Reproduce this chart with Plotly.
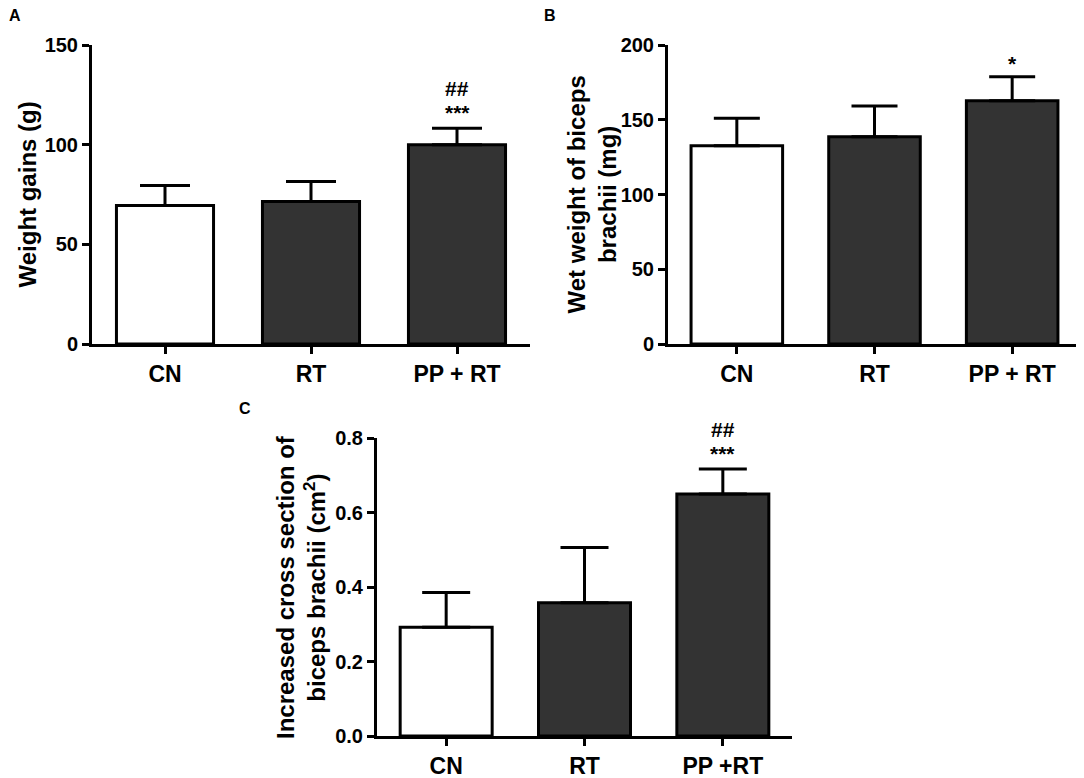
import plotly.graph_objects as go

# ---- data ----
cats_ab = ["CN", "RT", "PP + RT"]
cats_c = ["CN", "RT", "PP +RT"]

weight_gain_mean = [69.5, 71.5, 100.0]
weight_gain_sem = [10.0, 10.0, 8.2]

wet_weight_mean = [132.6, 138.7, 162.7]
wet_weight_sem = [18.4, 20.5, 16.1]

cross_section_mean = [0.292, 0.358, 0.650]
cross_section_sem = [0.093, 0.148, 0.067]

bar_colors = ["#ffffff", "#333333", "#333333"]

# significance marks: (category index, text, pixel offset above error cap)
sig_a = [(2, "***", 2), (2, "##", 26)]
sig_b = [(2, "*", 0)]
sig_c = [(2, "***", 2), (2, "##", 26)]

# page body has an 8px margin: shift everything by 8px, keep a full-size canvas
OFF = 8
W, H = 1084, 778
FONT = "Arial, Liberation Sans, sans-serif"

def fx(a):
    return (a - OFF) / W

def fy(a):
    return 1 - (a - OFF) / H

def px_x(a, b):
    return [fx(a), fx(b)]

def px_y(top, bottom):
    return [fy(bottom), fy(top)]

fig = go.Figure()

panels = [
    ("x", "y", cats_ab, weight_gain_mean, weight_gain_sem, 25),
    ("x2", "y2", cats_ab, wet_weight_mean, wet_weight_sem, 23),
    ("x3", "y3", cats_c, cross_section_mean, cross_section_sem, 24),
]
for xa, ya, cats, mean, sem, capw in panels:
    fig.add_trace(go.Bar(
        x=cats, y=mean, xaxis=xa, yaxis=ya, width=0.665,
        marker=dict(color=bar_colors, line=dict(color="black", width=3)),
        error_y=dict(type="data", symmetric=False, array=sem,
                     arrayminus=[0] * len(sem), color="black",
                     thickness=3, width=capw),
        showlegend=False, hoverinfo="skip",
    ))

axis_common = dict(showline=True, linewidth=3, linecolor="black",
                   ticks="outside", tickwidth=2.5, ticklen=7, tickcolor="black",
                   showgrid=False, zeroline=False, fixedrange=True, automargin=False)

xtick_font = dict(family=FONT, size=23, color="black", weight="bold")
ytick_font = dict(family=FONT, size=20, color="black", weight="bold")

fig.update_layout(
    width=W, height=H, margin=dict(l=0, r=0, t=0, b=0, pad=0, autoexpand=False),
    paper_bgcolor="white", plot_bgcolor="white",
    xaxis=dict(domain=px_x(92, 530), anchor="y", range=[-0.5, 2.5],
               tickfont=xtick_font, **axis_common),
    yaxis=dict(domain=px_y(45, 344), anchor="x", range=[0, 150],
               tickvals=[0, 50, 100, 150], tickfont=ytick_font, **axis_common),
    xaxis2=dict(domain=px_x(668, 1081), anchor="y2", range=[-0.5, 2.5],
                tickfont=xtick_font, **axis_common),
    yaxis2=dict(domain=px_y(45, 344), anchor="x2", range=[0, 200],
                tickvals=[0, 50, 100, 150, 200], tickfont=ytick_font, **axis_common),
    xaxis3=dict(domain=px_x(377, 792), anchor="y3", range=[-0.5, 2.5],
                tickfont=xtick_font, **axis_common),
    yaxis3=dict(domain=px_y(438, 736), anchor="x3", range=[0, 0.8],
                tickvals=[0, 0.2, 0.4, 0.6, 0.8], tickformat=".1f",
                tickfont=ytick_font, **axis_common),
)

title_font = dict(family=FONT, size=24, color="black", weight="bold")
ann = []
# y-axis titles
ann.append(dict(text="Weight gains (g)", x=fx(27), y=fy(194.5), xref="paper", yref="paper",
                textangle=-90, showarrow=False, font=title_font, xanchor="center", yanchor="middle"))
ann.append(dict(text="Wet weight of biceps<br>brachii (mg)", x=fx(591), y=fy(194.5),
                xref="paper", yref="paper", textangle=-90, showarrow=False, font=title_font,
                xanchor="center", yanchor="middle"))
ann.append(dict(text="Increased cross section of<br>biceps brachii (cm<sup>2</sup>)", x=fx(301),
                y=fy(587), xref="paper", yref="paper", textangle=-90, showarrow=False,
                font=title_font, xanchor="center", yanchor="middle"))
# panel letters
for letter, lx, ly in [("A", 14.5, 15), ("B", 549.5, 15), ("C", 245, 408)]:
    ann.append(dict(text=letter, x=fx(lx), y=fy(ly), xref="paper", yref="paper",
                    showarrow=False, font=dict(family=FONT, size=16, color="black", weight="bold"),
                    xanchor="center", yanchor="middle"))
# significance marks
for (xr, yr, cats, mean, sem), marks in [
    (("x", "y", cats_ab, weight_gain_mean, weight_gain_sem), sig_a),
    (("x2", "y2", cats_ab, wet_weight_mean, wet_weight_sem), sig_b),
    (("x3", "y3", cats_c, cross_section_mean, cross_section_sem), sig_c),
]:
    for idx, txt, off in marks:
        ann.append(dict(text=txt, x=cats[idx], y=mean[idx] + sem[idx], xref=xr, yref=yr,
                        showarrow=False, yanchor="bottom", yshift=off,
                        font=dict(family=FONT, size=21, color="black", weight="bold")))
fig.update_layout(annotations=ann)

fig.write_html("out.html")
